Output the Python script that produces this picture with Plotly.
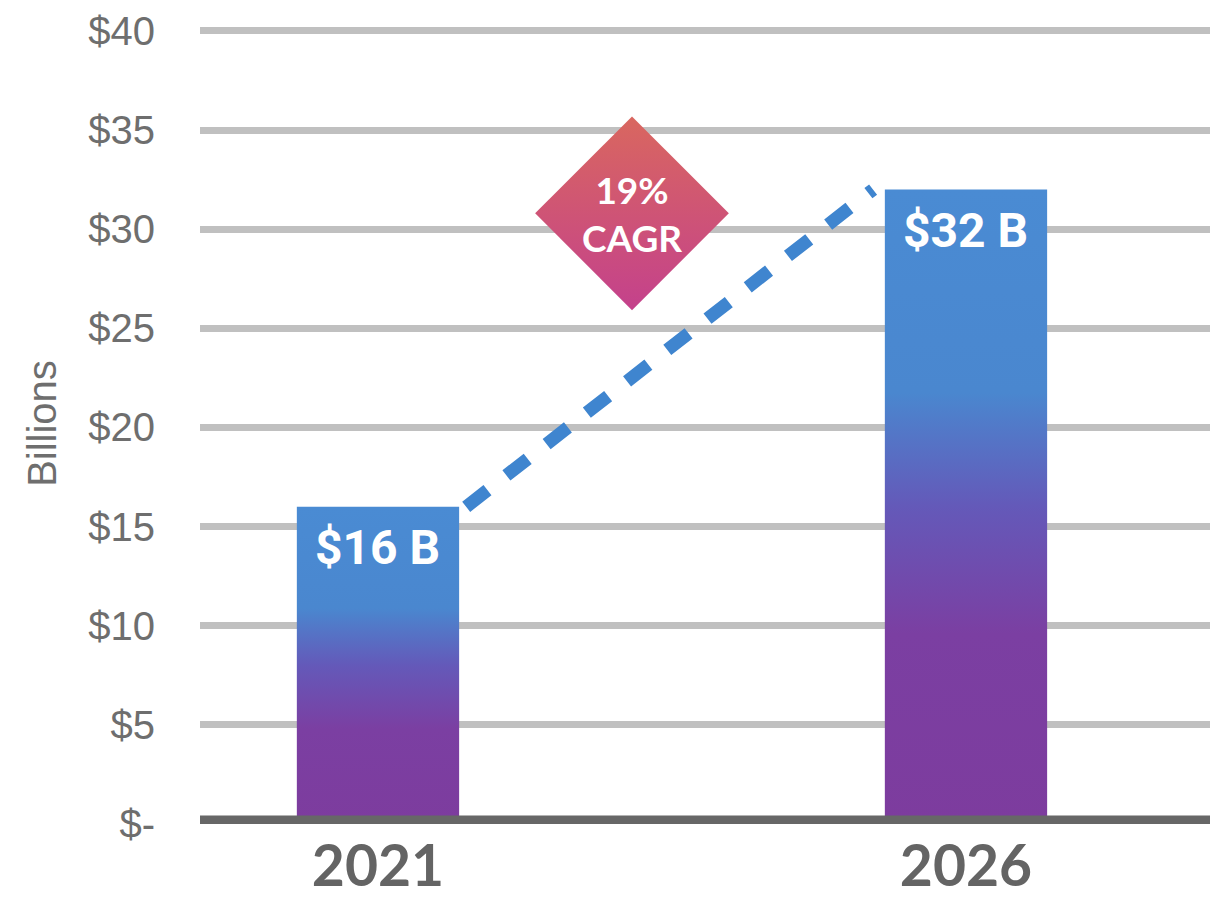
import plotly.graph_objects as go

# Market size, billions of US dollars
years = ["2021", "2026"]
market_size = [16, 32]
bar_labels = ["$16 B", "$32 B"]
cagr_lines = ["19%", "CAGR"]
y_ticks = [0, 5, 10, 15, 20, 25, 30, 35, 40]
y_tick_labels = ["$-", "$5", "$10", "$15", "$20", "$25", "$30", "$35", "$40"]

x_pos = list(range(len(years)))
BAR_HALF = 0.138

BAR_SCALE = [[0.0, "#7d3c9e"], [0.30, "#7b3fa2"], [0.50, "#6459b9"],
             [0.68, "#4a87cf"], [1.0, "#4a8bd3"]]

fig = go.Figure()

# Bars as filled rectangles so they can carry a vertical gradient
for x, v in zip(x_pos, market_size):
    fig.add_trace(go.Scatter(
        x=[x - BAR_HALF, x + BAR_HALF, x + BAR_HALF, x - BAR_HALF, x - BAR_HALF],
        y=[0, 0, v, v, 0],
        mode="lines", line=dict(width=0), fill="toself",
        fillgradient=dict(type="vertical", colorscale=BAR_SCALE, start=0, stop=v),
        hoverinfo="skip", showlegend=False,
    ))

# Growth line between the two bars
fig.add_trace(go.Scatter(
    x=[x_pos[0] + BAR_HALF + 0.012, x_pos[1] - BAR_HALF - 0.02],
    y=market_size,
    mode="lines",
    line=dict(color="#3f85cf", width=13, dash="27px,24px"),
    hoverinfo="skip", showlegend=False,
))

# CAGR badge
badge_x, badge_y = 0.432, 30.8
fig.add_trace(go.Scatter(
    x=[badge_x], y=[badge_y], mode="markers",
    marker=dict(symbol="diamond", size=149, color="#d9675f",
                gradient=dict(type="vertical", color="#c4418c"),
                line=dict(width=0)),
    hoverinfo="skip", showlegend=False,
))
fig.add_annotation(
    x=badge_x, y=badge_y, text="<br>".join(cagr_lines), showarrow=False,
    font=dict(family="Lato", size=37, color="white", weight=700),
    xanchor="center", yanchor="middle",
)

# Value labels inside the top of each bar
for x, v, lab in zip(x_pos, market_size, bar_labels):
    fig.add_annotation(
        x=x, y=v, text=lab, showarrow=False, yanchor="top", yshift=-10,
        font=dict(family="Roboto", size=48, color="white", weight=700),
    )

# Heavy baseline at zero
fig.add_shape(type="line", xref="paper", x0=0, x1=1, yref="y", y0=0, y1=0,
              line=dict(color="#676767", width=17), layer="above")

fig.update_layout(
    width=1210, height=901,
    margin=dict(l=200, r=0, t=23, b=77),
    plot_bgcolor="white", paper_bgcolor="white",
    showlegend=False,
)
fig.update_xaxes(
    range=[-0.3027, 1.415], tickvals=x_pos, ticktext=years,
    showgrid=False, zeroline=False, showline=False, ticks="",
    tickfont=dict(family="Lato", size=57, color="#646464", weight=700),
    ticklabelstandoff=4, automargin=False,
)
fig.update_yaxes(
    range=[0, 40.4], tickvals=y_ticks, ticktext=y_tick_labels,
    showgrid=True, gridcolor="#c0c0c0", gridwidth=7,
    zeroline=False, showline=False, ticks="",
    tickfont=dict(family="Liberation Sans", size=40, color="#6e6e6e"),
    ticklabelstandoff=44, automargin=False,
    title=dict(text="Billions", standoff=19,
               font=dict(family="Liberation Sans", size=40, color="#6e6e6e")),
)

fig.write_html("out.html")
